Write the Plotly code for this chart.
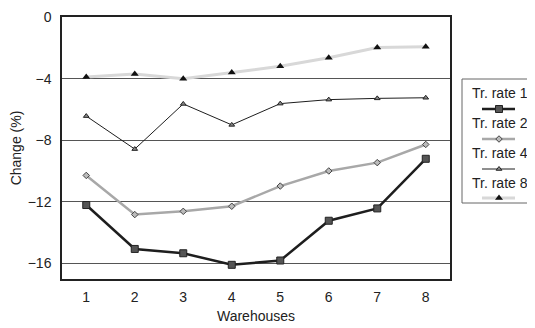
import plotly.graph_objects as go

warehouses = [1, 2, 3, 4, 5, 6, 7, 8]
rate1 = [-12.2, -15.05, -15.33, -16.08, -15.8, -13.22, -12.42, -9.2]
rate2 = [-10.28, -12.82, -12.61, -12.28, -10.97, -9.99, -9.45, -8.27]
rate4 = [-6.43, -8.57, -5.64, -7.0, -5.62, -5.36, -5.28, -5.24]
rate8 = [-3.9, -3.7, -4.0, -3.6, -3.2, -2.65, -1.98, -1.93]
series_names = ["Tr. rate 1", "Tr. rate 2", "Tr. rate 4", "Tr. rate 8"]
y_ticks = [0, -4, -8, -12, -16]

FONT = "Liberation Sans, Arial, sans-serif"
# page body has an 8px margin; size the figure so it fits the 535x328 window
OFF = 8
W, H = 535 - OFF, 328 - OFF
styles = [
    dict(line=dict(color="#1e1e1e", width=2.5),
         marker=dict(symbol="square", size=7, color="#555555", line=dict(color="#222222", width=1))),
    dict(line=dict(color="#a8a8a8", width=2.5),
         marker=dict(symbol="diamond", size=5, color="#bbbbbb", line=dict(color="#444444", width=1))),
    dict(line=dict(color="#1e1e1e", width=1),
         marker=dict(symbol="triangle-up", size=5, color="#888888", line=dict(color="#222222", width=1))),
    dict(line=dict(color="#d8d8d8", width=3),
         marker=dict(symbol="triangle-up", size=7, color="#111111", line=dict(color="#111111", width=0))),
]
all_series = [rate1, rate2, rate4, rate8]

# convert window pixel positions to paper fractions
px = lambda x: (x - OFF) / W
py = lambda y: (H - (y - OFF)) / H

fig = go.Figure()
for name, vals, st in zip(series_names, all_series, styles):
    fig.add_trace(go.Scatter(x=warehouses, y=vals, mode="lines+markers", name=name,
                             line=st["line"], marker=st["marker"], showlegend=False))

# custom legend: text above a sample line
lx0, lx1, ly0, ly1 = 462, 532.5, 79, 203
sample_y = [109, 139, 169, 198]
text_y = [93, 123, 153, 183]
for name, st, sy, ty in zip(series_names, styles, sample_y, text_y):
    fig.add_trace(go.Scatter(x=[px(482), px(499), px(515)], y=[py(sy)] * 3, mode="lines",
                             line=st["line"], xaxis="x2", yaxis="y2", showlegend=False,
                             hoverinfo="skip", cliponaxis=False))
    fig.add_trace(go.Scatter(x=[px(499)], y=[py(sy)], mode="markers", marker=st["marker"],
                             xaxis="x2", yaxis="y2", showlegend=False, hoverinfo="skip",
                             cliponaxis=False))
    fig.add_annotation(x=px(500), y=py(ty), xref="paper", yref="paper", text=name,
                       showarrow=False, xanchor="center", yanchor="middle",
                       font=dict(family=FONT, size=14, color="#222222"))

fig.add_shape(type="rect", xref="paper", yref="paper",
              x0=px(lx0), x1=px(lx1), y0=py(ly1), y1=py(ly0),
              line=dict(color="#666666", width=1), fillcolor="rgba(0,0,0,0)")

fig.update_layout(
    width=W, height=H,
    margin=dict(l=0, r=0, t=0, b=0),
    paper_bgcolor="white", plot_bgcolor="white",
    font=dict(family=FONT, size=14, color="#222222"),
    xaxis=dict(domain=[px(62), px(450)], range=[0.5, 8.5], tickvals=warehouses,
               showgrid=False, zeroline=False, automargin=False, ticklabeloverflow="allow",
               showline=True, linecolor="#222222", linewidth=1.5, mirror=True, ticks="",
               ticklabelstandoff=4,
               title=dict(text="Warehouses", standoff=8, font=dict(size=14))),
    yaxis=dict(domain=[py(279), py(17)], range=[-17, 0], tickvals=y_ticks, showgrid=True,
               gridcolor="#555555", automargin=False, ticklabeloverflow="allow",
               gridwidth=1, zeroline=False, showline=True, linecolor="#222222",
               linewidth=1.5, mirror=True, ticks="", ticklabelstandoff=6,
               title=dict(text="Change (%)", standoff=14, font=dict(size=14))),
    xaxis2=dict(domain=[px(lx0) + 0.002, px(lx1) - 0.002], range=[px(lx0) + 0.002, px(lx1) - 0.002],
                visible=False, anchor="y2", fixedrange=True),
    yaxis2=dict(domain=[py(ly1) + 0.003, py(ly0) - 0.003], range=[py(ly1) + 0.003, py(ly0) - 0.003],
                visible=False, anchor="x2", fixedrange=True),
    showlegend=False,
)

fig.write_html("out.html")
